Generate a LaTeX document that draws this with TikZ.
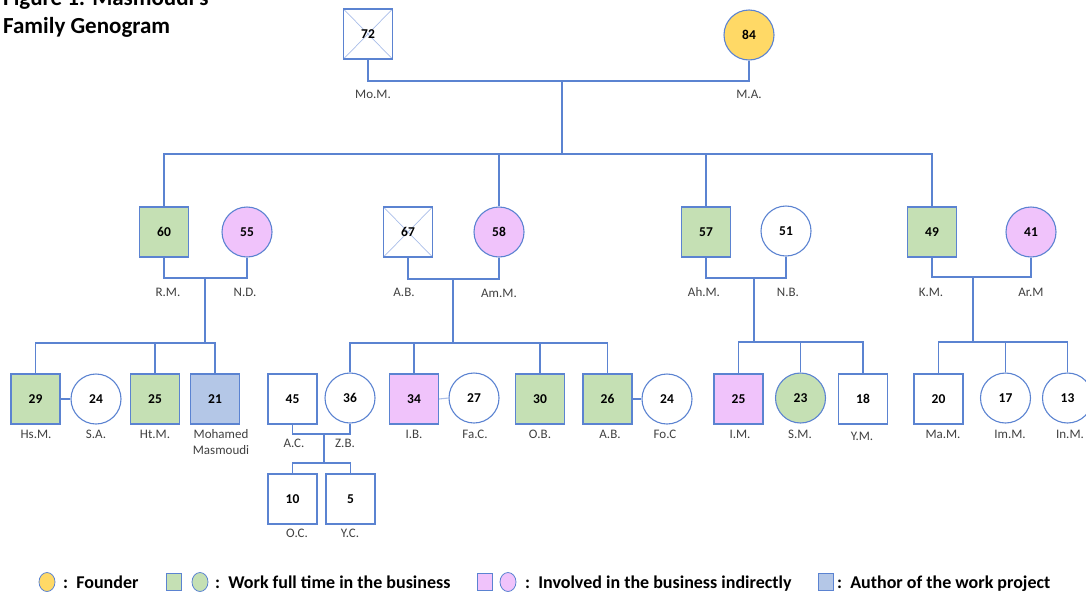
\documentclass[tikz,border=0pt]{standalone}
\usepackage{fontspec}
\setmainfont{Carlito}
\definecolor{lc}{HTML}{5B83D1}
\definecolor{xl}{HTML}{A9BDE8}
\definecolor{gfill}{HTML}{C5E0B4}
\definecolor{pfill}{HTML}{F0C3FB}
\definecolor{yfill}{HTML}{FFD966}
\definecolor{bfill}{HTML}{B4C7E7}
\definecolor{lab}{HTML}{404040}
\tikzset{
  conn/.style={draw=lc, line width=1.1pt},
  person/.style={draw=lc, line width=1.1pt, inner sep=0pt, font=\bfseries\fontsize{13.5}{15}\selectfont, text=black},
  sq/.style={person, rectangle, minimum width=49pt, minimum height=50pt},
  ci/.style={person, circle, minimum size=50pt},
  gr/.style={fill=gfill}, pk/.style={fill=pfill}, yl/.style={fill=yfill}, bl/.style={fill=bfill},
  dec/.style={path picture={\draw[xl, line width=0.7pt] (path picture bounding box.north west) -- (path picture bounding box.south east) (path picture bounding box.north east) -- (path picture bounding box.south west);}},
  lbl/.style={font=\fontsize{13}{16}\selectfont, text=lab, inner sep=0pt, align=center},
  ttl/.style={font=\bfseries\fontsize{23}{27}\selectfont, inner sep=0pt, anchor=base west},
  legtxt/.style={font=\bfseries\fontsize{18}{20}\selectfont, inner sep=0pt, anchor=base west},
  legsq/.style={draw=lc, line width=0.8pt, rectangle, minimum width=15pt, minimum height=17pt, inner sep=0pt},
  legci/.style={draw=lc, line width=0.8pt, ellipse, minimum width=16pt, minimum height=19pt, inner sep=0pt},
}
\usetikzlibrary{shapes.geometric}
\begin{document}
\begin{tikzpicture}[x=1pt,y=-1pt]
\useasboundingbox (0,0) rectangle (1086,592);
\clip (0,0) rectangle (1086,592);
% title
\node[ttl] (t1) at (3,5.5) {Figure 1: Masmoudi's};
\node[ttl] (t2) at (3,33) {Family Genogram};
% generation 1
\node[sq,dec] (mom) at (368,34) {72};
\node[ci,yl] (ma) at (749,35) {84};
\node[lbl] (lmom) at (373,94) {Mo.M.};
\node[lbl] (lma) at (749,94) {M.A.};
% generation 2
\node[sq,gr] (rm) at (164,232) {60};
\node[ci,pk] (nd) at (247,232) {55};
\node[sq,dec] (ab) at (408,232) {67};
\node[ci,pk] (amm) at (499,232) {58};
\node[sq,gr] (ahm) at (706,232) {57};
\node[ci] (nb) at (786,231) {51};
\node[sq,gr] (km) at (932,232) {49};
\node[ci,pk] (arm) at (1031,232) {41};
\node[lbl] (lrm) at (168,292) {R.M.};
\node[lbl] (lnd) at (245,292) {N.D.};
\node[lbl] (lab1) at (404,292) {A.B.};
\node[lbl] (lamm) at (499,293) {Am.M.};
\node[lbl] (lahm) at (704,292) {Ah.M.};
\node[lbl] (lnb) at (788,292) {N.B.};
\node[lbl] (lkm) at (931,292) {K.M.};
\node[lbl] (larm) at (1031,292) {Ar.M};
% generation 3
\node[sq,gr] (hsm) at (35.5,399) {29};
\node[ci] (sa) at (96,399) {24};
\node[sq,gr] (htm) at (155,399) {25};
\node[sq,bl] (mm) at (215,399) {21};
\node[sq] (ac) at (292.5,399) {45};
\node[ci] (zb) at (350,398) {36};
\node[sq,pk] (ib) at (414,399) {34};
\node[ci] (fac) at (474,398) {27};
\node[sq,gr] (ob) at (540,399) {30};
\node[sq,gr] (abb) at (607.5,399) {26};
\node[ci] (foc) at (667,399) {24};
\node[sq,pk] (im) at (738.5,399) {25};
\node[ci,gr] (sm) at (800.5,398) {23};
\node[sq] (ym) at (863,399) {18};
\node[sq] (mam) at (938.5,399) {20};
\node[ci] (imm) at (1005.5,398) {17};
\node[ci] (inm) at (1067.5,398) {13};
\node[lbl] (lhsm) at (36,434) {Hs.M.};
\node[lbl] (lsa) at (96,434) {S.A.};
\node[lbl] (lhtm) at (155,434) {Ht.M.};
\node[lbl] (lmm) at (221,442) {Mohamed\\Masmoudi};
\node[lbl] (lac) at (294,443) {A.C.};
\node[lbl] (lzb) at (345,443) {Z.B.};
\node[lbl] (lib) at (414,434) {I.B.};
\node[lbl] (lfac) at (475,434) {Fa.C.};
\node[lbl] (lob) at (540,434) {O.B.};
\node[lbl] (labb) at (610,434) {A.B.};
\node[lbl] (lfoc) at (665,434) {Fo.C};
\node[lbl] (lim) at (740,434) {I.M.};
\node[lbl] (lsm) at (800,434) {S.M.};
\node[lbl] (lym) at (862,436) {Y.M.};
\node[lbl] (lmam) at (943,434) {Ma.M.};
\node[lbl] (limm) at (1010,434) {Im.M.};
\node[lbl] (linm) at (1070,434) {In.M.};
% generation 4
\node[sq] (oc) at (292.5,499) {10};
\node[sq] (yc) at (350.5,499) {5};
\node[lbl] (loc) at (297,533) {O.C.};
\node[lbl] (lyc) at (350,533) {Y.C.};
% junctions
\coordinate (c0) at (562,81);
\coordinate (b0) at (562,154);
\coordinate (j1) at (205,278);
\coordinate (k1) at (205,343);
\coordinate (j2) at (453,279);
\coordinate (k2) at (453,343);
\coordinate (j3) at (754,278);
\coordinate (k3) at (754,342);
\coordinate (j4) at (973,277);
\coordinate (k4) at (973,342);
\coordinate (j5) at (324,434);
\coordinate (k5) at (324,463);
% connectors gen 1
\draw[conn] (mom.south) |- (c0) -| (ma.south);
\draw[conn] (c0) -- (b0);
\draw[conn] (rm.north) |- (km.north |- b0) -- (km.north);
\draw[conn] (b0 -| amm.north) -- (amm.north);
\draw[conn] (b0 -| ahm.north) -- (ahm.north);
% couples gen 2
\draw[conn] (rm.south) |- (j1) -| (nd.south);
\draw[conn] (j1) -- (k1);
\draw[conn] (hsm.north) |- (mm.north |- k1) -- (mm.north);
\draw[conn] (k1 -| htm.north) -- (htm.north);
\draw[conn] (ab.south) |- (j2) -| (amm.south);
\draw[conn] (j2) -- (k2);
\draw[conn] (zb.north) |- (abb.north |- k2) -- (abb.north);
\draw[conn] (k2 -| ib.north) -- (ib.north);
\draw[conn] (k2 -| ob.north) -- (ob.north);
\draw[conn] (ahm.south) |- (j3) -| (nb.south);
\draw[conn] (j3) -- (k3);
\draw[conn] (im.north) |- (ym.north |- k3) -- (ym.north);
\draw[conn] (k3 -| sm.north) -- (sm.north);
\draw[conn] (km.south) |- (j4) -| (arm.south);
\draw[conn] (j4) -- (k4);
\draw[conn] (mam.north) |- (inm.north |- k4) -- (inm.north);
\draw[conn] (k4 -| imm.north) -- (imm.north);
% couples gen 3
\draw[conn] (hsm.east) -- (sa.west);
\draw[conn, draw=xl] (ib.east) -- (fac.west);
\draw[conn] (abb.east) -- (foc.west);
\draw[conn] (ac.south) |- (j5) -| (zb.south);
\draw[conn] (j5) -- (k5);
\draw[conn] (oc.north) |- (yc.north |- k5) -- (yc.north);
% legend
\node[legci, fill=yfill] (lg1) at (47,582) {};
\node[legtxt] (lt1) at (63,588) {:\ \ Founder};
\node[legsq, fill=gfill] (lg2) at (174,582) {};
\node[legci, fill=gfill] (lg3) at (200,582) {};
\node[legtxt] (lt2) at (215,588) {:\ \ Work full time in the business};
\node[legsq, fill=pfill] (lg4) at (484.5,582) {};
\node[legci, fill=pfill] (lg5) at (508,582) {};
\node[legtxt] (lt3) at (525,588) {:\ \ Involved in the business indirectly};
\node[legsq, fill=bfill] (lg6) at (826,582) {};
\node[legtxt] (lt4) at (837,588) {:\ \ Author of the work project};
\end{tikzpicture}
\end{document}
